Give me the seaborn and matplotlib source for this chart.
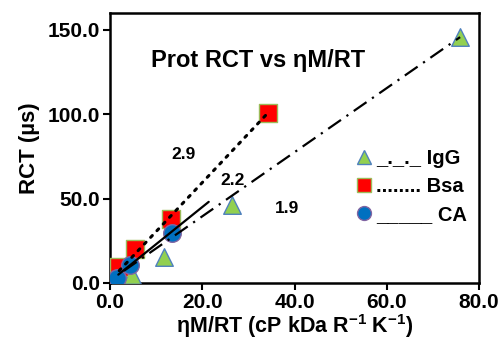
import numpy as np
import pandas as pd
import matplotlib
matplotlib.use("Agg")
import matplotlib.pyplot as plt
import seaborn as sns
from matplotlib.lines import Line2D
from matplotlib.ticker import FormatStrFormatter, FixedLocator

sns.set_theme(style="ticks")
plt.rcParams['font.family'] = ['Liberation Sans', 'DejaVu Sans']
plt.rcParams['font.weight'] = 'bold'
plt.rcParams['text.color'] = 'black'
plt.rcParams['axes.labelcolor'] = 'black'
plt.rcParams['xtick.color'] = 'black'
plt.rcParams['ytick.color'] = 'black'
plt.rcParams['mathtext.fontset'] = 'custom'
plt.rcParams['mathtext.rm'] = 'Liberation Sans:bold'
plt.rcParams['mathtext.bf'] = 'Liberation Sans:bold'
plt.rcParams['mathtext.default'] = 'rm'

# ---- data ----
igg_x = [4.8, 11.6, 26.4, 75.9]
igg_y = [4.7, 15.6, 46.0, 145.7]
bsa_x = [2.0, 5.5, 13.3, 34.3]
bsa_y = [9.2, 20.3, 38.2, 101.0]
ca_x = [1.5, 4.3, 13.4]
ca_y = [2.8, 10.6, 29.4]

series_names = ["IgG", "Bsa", "CA"]
legend_labels = ["_._._ IgG", "........ Bsa", "_____ CA"]
fit_slopes = [1.9, 2.9, 2.2]
fit_intercepts = [1.5, 1.5, 1.0]
fit_x_start = [3.0, 2.0, 1.8]
fit_x_end = [75.9, 34.3, 21.4]
slope_labels = ["1.9", "2.9", "2.2"]
slope_label_x = [38.3, 15.9, 26.5]
slope_label_y = [43.9, 75.9, 61.0]

title_text = "Prot RCT vs ηM/RT"
x_ticks = [0, 20, 40, 60, 80]
y_ticks = [0, 50, 100, 150]

df = pd.concat([
    pd.DataFrame({"x": igg_x, "y": igg_y, "s": series_names[0]}),
    pd.DataFrame({"x": bsa_x, "y": bsa_y, "s": series_names[1]}),
    pd.DataFrame({"x": ca_x, "y": ca_y, "s": series_names[2]}),
])

fig = plt.figure(figsize=(5.01, 3.42), dpi=100)
ax = fig.add_axes([110/501, 1-283/342, (479-110)/501, (283-13)/342])

styles = [
    dict(marker="^", color="#92D050", ec="#4F81BD", ls=(0, (7, 3, 1, 3))),
    dict(marker="s", color="#FF0000", ec="#9BBB59", ls=(0, (0.8, 2.2))),
    dict(marker="o", color="#0070C0", ec="#8064A2", ls="-"),
]

for name, st in zip(series_names, styles):
    sub = df[df["s"] == name]
    sns.scatterplot(data=sub, x="x", y="y", marker=st["marker"], color=st["color"],
                    edgecolor=st["ec"], linewidth=1.0, s=160, ax=ax, legend=False, zorder=3)

# fitted lines
for i, st in enumerate(styles):
    xs = np.array([fit_x_start[i], fit_x_end[i]])
    ys = fit_slopes[i] * xs + fit_intercepts[i]
    ax.plot(xs, ys, color="black", lw=1.6 if i != 1 else 2.2,
            linestyle=st["ls"], zorder=4, dash_capstyle="round" if i == 1 else "butt")

for t, xx, yy in zip(slope_labels, slope_label_x, slope_label_y):
    ax.text(xx, yy, t, ha="center", va="center", fontsize=12.5, fontweight="bold", color="black")

ax.text(32.2, 132, title_text, ha="center", va="center", fontsize=17, fontweight="bold")

ax.set_xlim(0, 80)
ax.set_ylim(0, 160)
ax.xaxis.set_major_locator(FixedLocator(x_ticks))
ax.yaxis.set_major_locator(FixedLocator(y_ticks))
ax.xaxis.set_major_formatter(FormatStrFormatter("%.1f"))
ax.yaxis.set_major_formatter(FormatStrFormatter("%.1f"))
ax.tick_params(axis="both", direction="out", length=5, width=1.5, labelsize=15, pad=2, color="black")
for lab in ax.get_xticklabels() + ax.get_yticklabels():
    lab.set_fontweight("bold")
for sp in ax.spines.values():
    sp.set_visible(True)
    sp.set_linewidth(1.8)
    sp.set_color("black")

ax.set_xlabel(r"ηM/RT (cP kDa R$^{-1}$ K$^{-1}$)", fontsize=15.5, fontweight="bold", labelpad=0)
ax.set_ylabel("RCT (µs)", fontsize=16, fontweight="bold", labelpad=6)

handles = [Line2D([], [], linestyle="none", marker=st["marker"], markersize=10,
                  markerfacecolor=st["color"], markeredgecolor=st["ec"], markeredgewidth=1.0)
           for st in styles]
leg = ax.legend(handles, legend_labels, loc="upper left", bbox_to_anchor=(0.64, 0.525), frameon=False,
                fontsize=14.5, handletextpad=0.1, labelspacing=0.45,
                handlelength=1.0, borderaxespad=0)
for txt in leg.get_texts():
    txt.set_fontweight("bold")

fig.savefig("out.png", dpi=100)
